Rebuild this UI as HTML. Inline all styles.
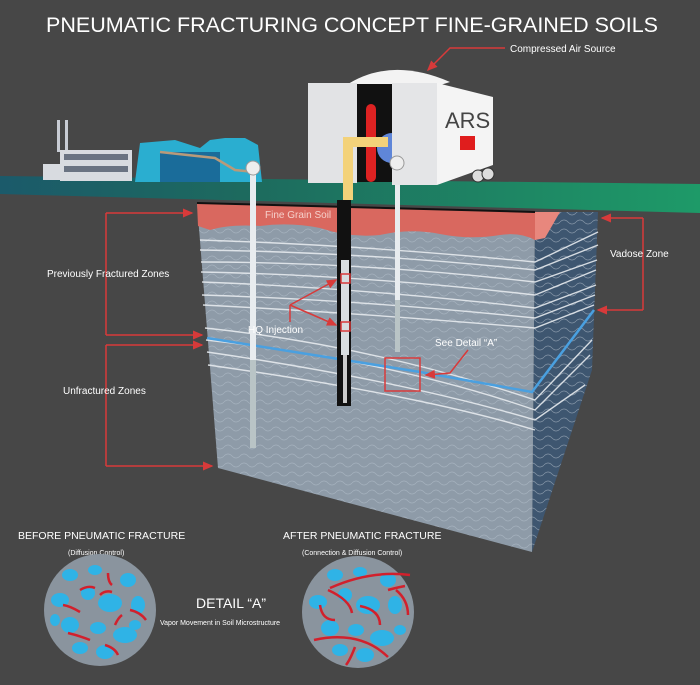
<!DOCTYPE html>
<html><head><meta charset="utf-8"><style>
html,body{margin:0;padding:0;background:#474747;}
svg{display:block;font-family:"Liberation Sans",sans-serif;}
</style></head><body>
<svg width="700" height="685" viewBox="0 0 700 685" xmlns="http://www.w3.org/2000/svg">
<defs>
<linearGradient id="gr" x1="0" x2="1" y1="0" y2="0"><stop offset="0" stop-color="#1b5a6a"/><stop offset="0.35" stop-color="#1d6a5e"/><stop offset="1" stop-color="#1e9a68"/></linearGradient>
<pattern id="wv" width="16" height="9" patternUnits="userSpaceOnUse"><path d="M0 6 Q4 2 8 6 T16 6" fill="none" stroke="#b4c0cc" stroke-width="0.7" opacity="0.6"/></pattern>
<marker id="ar" markerWidth="8" markerHeight="8" refX="6" refY="3" orient="auto"><path d="M0,0 L7,3 L0,6z" fill="#d83a3a"/></marker>
</defs>
<rect width="700" height="685" fill="#474747"/>
<text x="352" y="32" font-size="21.5" fill="#fff" text-anchor="middle">PNEUMATIC FRACTURING CONCEPT FINE-GRAINED SOILS</text>

<!-- ground -->
<polygon points="0,176 700,184 700,213 0,194" fill="url(#gr)"/>

<!-- factory -->
<rect x="57" y="120" width="3" height="32" fill="#c8ccd4"/><rect x="65" y="120" width="3" height="32" fill="#c8ccd4"/>
<rect x="43" y="164" width="20" height="16" fill="#d8dbe0"/>
<rect x="60" y="150" width="72" height="31" fill="#d8dbe0"/>
<g fill="#6a7382"><rect x="64" y="154" width="64" height="6"/><rect x="64" y="166" width="64" height="6"/></g>
<polygon points="140,143 175,140 200,148 210,140 225,138 245,138 258,145 262,182 135,182" fill="#2aaed0"/>
<rect x="160" y="152" width="60" height="30" fill="#1a6c9a"/>
<polyline points="160,152 215,158 235,170 255,172" fill="none" stroke="#b89a7a" stroke-width="2.5"/>

<!-- soil box side -->
<polygon points="535,212 598,212 592,370 532,552" fill="#3e5670"/>
<polygon points="535,212 598,212 592,370 532,552" fill="url(#wv)"/>
<!-- front -->
<polygon points="197,203 535,212 532,552 218,468" fill="#8e9ba8"/>
<polygon points="197,203 535,212 532,552 218,468" fill="url(#wv)"/>
<!-- red layer -->
<path d="M197,203 L535,212 L535,240 Q520,232 500,235 Q470,240 440,234 Q410,228 380,235 Q350,238 320,228 Q290,222 260,226 Q230,224 210,230 L198,226 Z" fill="#d9685f"/>
<polygon points="535,212 560,212 545,238 535,240" fill="#e8877d"/>
<line x1="197" y1="203" x2="535" y2="212" stroke="#111" stroke-width="2"/>
<!-- fractures -->
<g fill="none" stroke="#e6eaee" stroke-width="1.4" opacity="0.9">
<path d="M200,240 Q360,245 535,262 L598,232"/>
<path d="M200,250 Q360,252 535,270 L598,245"/>
<path d="M201,262 Q360,262 535,282 L597,260"/>
<path d="M201,272 Q360,275 535,295 L596,270"/>
<path d="M202,282 Q360,288 535,308 L596,285"/>
<path d="M202,295 Q360,300 535,318 L595,295"/>
<path d="M203,305 Q360,313 535,328 L594,305"/>
<path d="M205,328 Q370,345 535,400 L592,340"/>
<path d="M206,340 Q390,360 535,410 L590,355"/>
<path d="M207,352 Q400,380 535,420 L585,385"/>
<path d="M208,365 Q420,395 535,430"/>
</g>
<polyline points="207,338 420,372 532,392 594,310" fill="none" stroke="#4aa0e0" stroke-width="2.5"/>

<!-- wells -->
<rect x="250" y="170" width="6" height="278" fill="#e8ecef"/>
<rect x="250" y="360" width="6" height="88" fill="#9aa" opacity="0.6"/>
<circle cx="253" cy="168" r="7" fill="#eee" stroke="#999"/>
<rect x="337" y="200" width="14" height="206" fill="#111"/>
<rect x="341" y="260" width="8" height="95" fill="#d8dde0"/>
<rect x="343" y="355" width="4" height="48" fill="#ccc"/>
<rect x="395" y="160" width="5" height="192" fill="#e8ecef"/>
<rect x="395" y="300" width="5" height="52" fill="#9aa" opacity="0.6"/>

<!-- trailer -->
<path d="M345,86 Q390,56 450,82 L437,86 Z" fill="#f3f3f3"/>
<polygon points="437,83 493,97 493,165 437,185" fill="#f4f4f4"/>
<rect x="308" y="83" width="49" height="100" fill="#e2e3e5"/>
<rect x="357" y="84" width="35" height="98" fill="#111"/>
<rect x="366" y="104" width="10" height="78" rx="5" fill="#d22"/>
<circle cx="392" cy="148" r="15" fill="#5f86d8"/>
<rect x="392" y="83" width="45" height="102" fill="#e4e5e7"/>
<text x="445" y="128" font-size="22" fill="#444">ARS</text>
<rect x="460" y="136" width="15" height="14" fill="#e01d1d"/>
<circle cx="478" cy="176" r="6" fill="#ddd" stroke="#333"/><circle cx="488" cy="174" r="6" fill="#ddd" stroke="#333"/>
<path d="M348,200 L348,142 L388,142" fill="none" stroke="#f3d27a" stroke-width="10"/>
<circle cx="397" cy="163" r="7" fill="#eee" stroke="#999"/>

<!-- labels -->
<g stroke="#d83a3a" stroke-width="1.5" fill="none">
<polyline points="505,48 450,48 428,70" marker-end="url(#ar)"/>
<polyline points="106,213 106,335" /><line x1="106" y1="213" x2="192" y2="213" marker-end="url(#ar)"/><line x1="106" y1="335" x2="202" y2="335" marker-end="url(#ar)"/>
<polyline points="106,345 106,466"/><line x1="106" y1="345" x2="202" y2="345" marker-end="url(#ar)"/><line x1="106" y1="466" x2="212" y2="466" marker-end="url(#ar)"/>
<polyline points="643,218 643,310"/><line x1="643" y1="218" x2="602" y2="218" marker-end="url(#ar)"/><line x1="643" y1="310" x2="598" y2="310" marker-end="url(#ar)"/>
<line x1="290" y1="305" x2="336" y2="280" marker-end="url(#ar)"/><line x1="290" y1="305" x2="336" y2="325" marker-end="url(#ar)"/>
<line x1="290" y1="305" x2="290" y2="322"/>
<rect x="341" y="274" width="9" height="9"/><rect x="341" y="322" width="9" height="9"/>
<polyline points="468,350 450,373 426,375" marker-end="url(#ar)"/>
<rect x="385" y="358" width="35" height="33"/>
</g>
<g fill="#fff" font-size="10">
<text x="510" y="52">Compressed Air Source</text>
<text x="47" y="277">Previously Fractured Zones</text>
<text x="63" y="394">Unfractured Zones</text>
<text x="610" y="257">Vadose Zone</text>
<text x="248" y="333">HQ Injection</text>
<text x="435" y="346">See Detail “A”</text>
<text x="265" y="218" fill="#f6d0cb">Fine Grain Soil</text>
</g>

<!-- detail -->
<text x="18" y="539" font-size="10.5" fill="#fff">BEFORE PNEUMATIC FRACTURE</text>
<text x="68" y="555" font-size="7" fill="#fff">(Diffusion Control)</text>
<text x="283" y="539" font-size="10.5" fill="#fff">AFTER PNEUMATIC FRACTURE</text>
<text x="302" y="555" font-size="7" fill="#fff">(Connection &amp; Diffusion Control)</text>
<text x="196" y="608" font-size="14" fill="#fff">DETAIL “A”</text>
<text x="160" y="625" font-size="7" fill="#fff">Vapor Movement in Soil Microstructure</text>

<g>
<circle cx="100" cy="610" r="56" fill="#8a949e"/>
<g fill="#2fb3e6">
<ellipse cx="70" cy="575" rx="8" ry="6"/><ellipse cx="95" cy="570" rx="7" ry="5"/><ellipse cx="128" cy="580" rx="8" ry="7"/><ellipse cx="60" cy="600" rx="9" ry="7"/>
<ellipse cx="88" cy="593" rx="7" ry="7"/><ellipse cx="110" cy="603" rx="12" ry="9"/><ellipse cx="138" cy="605" rx="7" ry="9"/><ellipse cx="70" cy="625" rx="9" ry="8"/>
<ellipse cx="98" cy="628" rx="8" ry="6"/><ellipse cx="125" cy="635" rx="12" ry="8"/><ellipse cx="80" cy="648" rx="8" ry="6"/><ellipse cx="105" cy="652" rx="9" ry="7"/><ellipse cx="135" cy="625" rx="6" ry="5"/><ellipse cx="55" cy="620" rx="5" ry="6"/>
</g>
<g fill="none" stroke="#d2202c" stroke-width="2.5">
<path d="M80,590 Q88,585 95,588"/><path d="M63,605 Q70,606 80,612"/><path d="M100,595 Q105,590 112,592"/><path d="M68,633 Q80,636 90,640"/><path d="M105,645 Q115,648 118,655"/><path d="M130,610 Q140,612 146,620"/><path d="M108,573 Q108,582 112,585"/><path d="M115,625 Q118,618 122,615"/>
</g>
</g>
<g>
<circle cx="358" cy="612" r="56" fill="#8a949e"/>
<g fill="#2fb3e6">
<ellipse cx="335" cy="575" rx="8" ry="6"/><ellipse cx="360" cy="572" rx="7" ry="5"/><ellipse cx="388" cy="580" rx="8" ry="7"/><ellipse cx="318" cy="602" rx="9" ry="7"/>
<ellipse cx="345" cy="595" rx="7" ry="7"/><ellipse cx="368" cy="605" rx="12" ry="9"/><ellipse cx="395" cy="605" rx="7" ry="9"/><ellipse cx="330" cy="628" rx="9" ry="8"/>
<ellipse cx="356" cy="630" rx="8" ry="6"/><ellipse cx="382" cy="638" rx="12" ry="8"/><ellipse cx="340" cy="650" rx="8" ry="6"/><ellipse cx="365" cy="655" rx="9" ry="7"/><ellipse cx="400" cy="630" rx="6" ry="5"/>
</g>
<g fill="none" stroke="#d2202c" stroke-width="2.5">
<path d="M330,588 Q370,570 410,575"/><path d="M328,590 Q350,600 352,613"/><path d="M320,605 Q322,620 335,620"/><path d="M360,606 Q380,610 380,625"/><path d="M396,590 Q408,600 408,615"/><path d="M314,640 Q360,630 388,657"/><path d="M355,647 Q350,660 346,665"/><path d="M405,586 Q395,588 388,590"/>
</g>
</g>
</svg>
</body></html>
